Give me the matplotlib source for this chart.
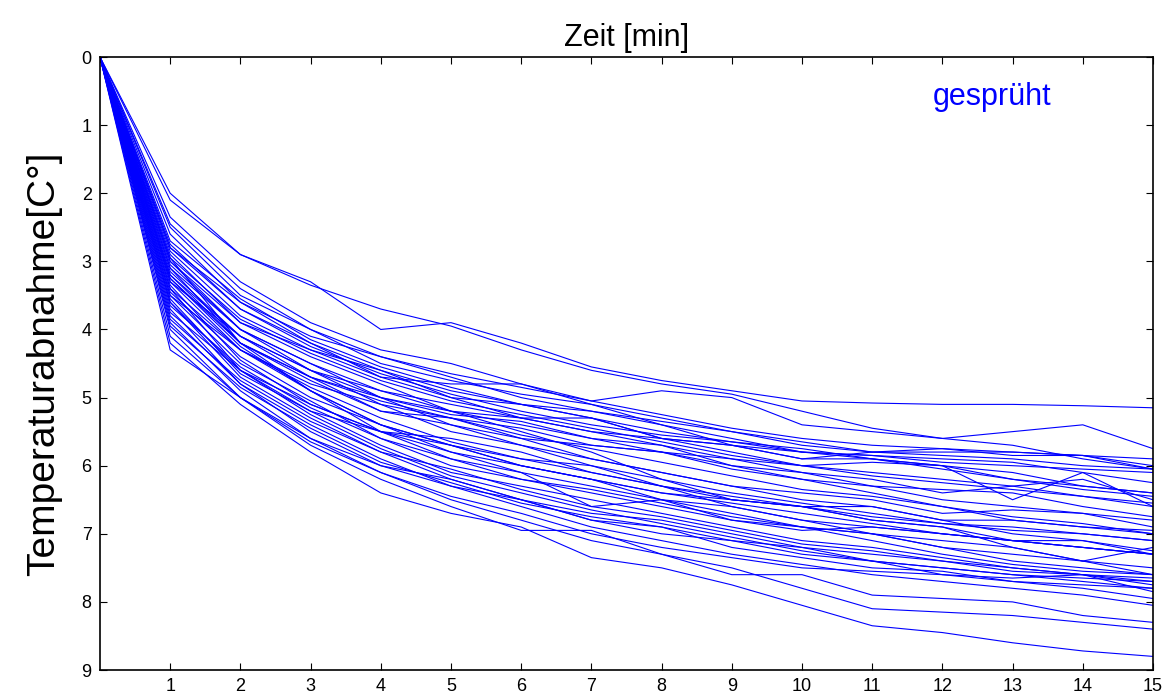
import numpy as np
import matplotlib.pyplot as plt

plt.rcParams['font.family'] = ['Liberation Sans', 'DejaVu Sans']

# minutes after spraying
minutes = np.arange(0, 16)

# temperature drop per curve, values at minute 1..15 (minute 0 is always 0)
drops = [
    # upper bundle
    [2.0, 2.9, 3.3, 4.0, 3.9, 4.2, 4.55, 4.75, 4.9, 5.05, 5.08, 5.1, 5.1, 5.12, 5.15],
    [2.1, 2.9, 3.35, 3.7, 3.95, 4.3, 4.6, 4.8, 4.95, 5.2, 5.45, 5.6, 5.5, 5.4, 5.75],
    [2.35, 3.3, 3.9, 4.3, 4.5, 4.8, 5.05, 4.9, 5.0, 5.4, 5.5, 5.6, 5.7, 5.9, 6.05],
    [2.5, 3.5, 4.0, 4.5, 4.75, 4.95, 5.1, 5.3, 5.5, 5.65, 5.8, 5.85, 5.9, 6.0, 6.05],
    [2.6, 3.6, 4.1, 4.4, 4.7, 5.0, 5.2, 5.4, 5.6, 5.8, 5.85, 5.9, 5.95, 6.1, 6.25],
    [2.8, 3.7, 4.2, 4.7, 5.0, 5.1, 5.2, 5.35, 5.5, 5.7, 5.8, 5.8, 5.8, 5.85, 6.0],
    [2.85, 3.8, 4.3, 4.7, 4.8, 4.8, 5.1, 5.4, 5.7, 5.9, 5.9, 6.0, 6.2, 6.3, 6.4],
    [2.9, 3.9, 4.4, 4.8, 5.2, 5.3, 5.5, 5.6, 5.8, 6.0, 6.1, 6.2, 6.3, 6.45, 6.6],
    [3.0, 4.0, 4.5, 4.9, 5.2, 5.4, 5.6, 5.8, 5.9, 6.0, 5.95, 6.0, 6.1, 6.3, 6.4],
    [3.0, 3.9, 4.3, 4.6, 4.9, 5.1, 5.3, 5.6, 5.7, 5.8, 5.9, 6.0, 6.5, 6.1, 6.6],
    [3.1, 4.0, 4.5, 5.0, 5.25, 5.35, 5.6, 5.7, 6.0, 6.1, 6.3, 6.35, 6.4, 6.6, 6.75],
    [3.15, 4.1, 4.6, 4.9, 5.1, 5.3, 5.5, 5.7, 5.9, 6.1, 6.2, 6.4, 6.3, 6.2, 6.5],
    [2.8, 3.6, 4.2, 4.6, 5.0, 5.3, 5.3, 5.6, 5.7, 5.9, 5.8, 5.75, 5.85, 5.85, 6.05],
    [3.2, 4.2, 4.7, 5.05, 5.3, 5.45, 5.7, 5.8, 6.05, 6.2, 6.3, 6.5, 6.6, 6.7, 6.9],
    [2.95, 3.85, 4.35, 4.75, 5.05, 5.25, 5.45, 5.65, 5.85, 6.0, 6.15, 6.25, 6.35, 6.45, 6.55],
    [3.3, 4.3, 4.8, 5.1, 5.3, 5.6, 5.9, 6.1, 6.3, 6.5, 6.6, 6.8, 7.0, 7.1, 7.3],
    [3.25, 4.25, 4.9, 5.4, 5.7, 5.9, 6.0, 6.2, 6.4, 6.55, 6.7, 6.85, 6.9, 7.0, 7.1],
    [2.45, 3.4, 4.0, 4.4, 4.65, 4.85, 5.05, 5.25, 5.45, 5.6, 5.7, 5.75, 5.8, 5.85, 5.9],
    [2.7, 3.55, 4.15, 4.55, 4.85, 5.1, 5.3, 5.5, 5.65, 5.75, 5.9, 6.05, 6.2, 6.35, 6.45],
    # middle
    [3.2, 4.1, 4.6, 5.0, 5.4, 5.6, 5.7, 5.8, 6.0, 6.2, 6.4, 6.6, 6.8, 6.9, 6.95],
    [3.1, 4.2, 4.7, 5.0, 5.2, 5.5, 5.8, 6.2, 6.5, 6.6, 6.8, 6.9, 7.2, 7.4, 7.6],
    [3.3, 4.1, 4.7, 5.2, 5.4, 5.7, 6.0, 6.3, 6.5, 6.6, 6.6, 6.8, 6.8, 6.9, 7.0],
    [2.95, 4.2, 4.9, 5.5, 5.6, 5.8, 6.1, 6.3, 6.6, 6.8, 6.9, 7.0, 7.1, 7.2, 7.3],
    [3.05, 4.0, 4.6, 5.1, 5.5, 5.7, 5.9, 6.1, 6.3, 6.4, 6.5, 6.7, 6.65, 6.7, 6.8],
    [3.4, 4.3, 4.85, 5.3, 5.65, 5.9, 6.1, 6.3, 6.45, 6.6, 6.75, 6.85, 6.95, 7.0, 7.1],
    [2.75, 3.7, 4.25, 4.65, 4.95, 5.2, 5.4, 5.55, 5.65, 5.8, 5.85, 5.95, 6.0, 6.05, 6.1],
    [3.25, 4.2, 4.75, 5.2, 5.3, 5.55, 5.75, 5.95, 6.15, 6.35, 6.45, 6.6, 6.75, 6.85, 7.0],
    # lower bundle
    [3.4, 4.6, 5.1, 5.5, 5.8, 6.0, 6.2, 6.4, 6.5, 6.6, 6.8, 6.9, 7.1, 7.2, 7.3],
    [3.5, 4.5, 5.05, 5.6, 6.0, 6.2, 6.4, 6.6, 6.8, 6.9, 7.0, 7.2, 7.4, 7.5, 7.6],
    [3.6, 4.7, 5.3, 5.8, 6.2, 6.5, 6.7, 6.8, 7.0, 7.2, 7.3, 7.4, 7.5, 7.6, 7.7],
    [3.7, 4.8, 5.4, 5.9, 6.3, 6.5, 6.8, 6.9, 7.1, 7.2, 7.4, 7.5, 7.6, 7.7, 7.8],
    [4.3, 5.0, 5.6, 6.0, 6.2, 6.5, 6.8, 7.0, 7.1, 7.3, 7.4, 7.6, 7.7, 7.75, 7.8],
    [4.2, 5.1, 5.8, 6.4, 6.7, 6.9, 7.35, 7.5, 7.75, 8.05, 8.35, 8.45, 8.6, 8.72, 8.8],
    [4.0, 5.0, 5.7, 6.2, 6.6, 6.95, 6.95, 7.3, 7.5, 7.8, 8.1, 8.15, 8.2, 8.3, 8.4],
    [3.9, 4.9, 5.6, 6.1, 6.5, 6.8, 7.1, 7.3, 7.6, 7.6, 7.9, 7.95, 8.0, 8.2, 8.3],
    [3.8, 4.8, 5.5, 6.0, 6.3, 6.6, 6.9, 7.1, 7.3, 7.45, 7.6, 7.7, 7.8, 7.9, 8.05],
    [3.55, 4.65, 5.2, 5.7, 6.1, 6.3, 6.5, 6.7, 6.9, 7.1, 7.2, 7.35, 7.5, 7.6, 7.65],
    [3.45, 4.4, 5.0, 5.4, 5.8, 6.1, 6.3, 6.5, 6.6, 6.8, 7.0, 7.1, 7.2, 7.4, 7.5],
    [3.65, 4.55, 5.15, 5.6, 5.9, 6.2, 6.35, 6.55, 6.75, 6.9, 7.1, 7.3, 7.45, 7.55, 7.6],
    [3.75, 4.6, 5.2, 5.5, 5.9, 6.1, 6.6, 6.5, 6.8, 6.95, 6.9, 7.0, 7.1, 7.1, 7.25],
    [3.35, 4.45, 5.1, 5.5, 5.7, 6.0, 6.2, 6.4, 6.55, 6.7, 6.85, 7.0, 7.1, 7.2, 7.3],
    [3.85, 4.75, 5.35, 5.8, 6.05, 6.35, 6.6, 6.75, 6.95, 7.15, 7.25, 7.4, 7.55, 7.6, 7.75],
    [3.95, 4.85, 5.45, 5.95, 6.25, 6.55, 6.75, 6.9, 7.2, 7.35, 7.5, 7.55, 7.7, 7.8, 7.95],
    [3.5, 4.3, 4.9, 5.4, 5.7, 6.0, 6.2, 6.5, 6.7, 6.9, 7.0, 7.2, 7.3, 7.4, 7.2],
    [4.1, 5.0, 5.65, 6.1, 6.45, 6.7, 7.0, 7.2, 7.35, 7.5, 7.55, 7.6, 7.65, 7.6, 7.85],
    [3.6, 4.6, 5.25, 5.75, 6.15, 6.4, 6.65, 6.85, 7.05, 7.25, 7.4, 7.5, 7.6, 7.65, 7.7],
]

fig = plt.figure(figsize=(11.72, 6.97), dpi=100)
ax = fig.add_axes([0.0853, 0.0387, 0.8985, 0.8795])

for d in drops:
    ax.plot(minutes, [0] + d, color='#0000ff', lw=0.8)

ax.set_xlim(0, 15)
ax.set_ylim(9, 0)
ax.set_xticks(range(1, 16))
ax.set_yticks(range(0, 10))
ax.tick_params(direction='in', top=True, right=True, length=5, width=0.8,
               labelsize=13, pad=6)
for s in ax.spines.values():
    s.set_linewidth(1.2)

ax.set_title('Zeit [min]', fontsize=22, pad=8)
ax.set_ylabel('Temperaturabnahme[C°]', fontsize=28, labelpad=14)
ax.text(0.847, 0.935, 'gesprüht', color='#0000ff', fontsize=22,
        transform=ax.transAxes, ha='center', va='center')

fig.savefig('out.png', dpi=100)
